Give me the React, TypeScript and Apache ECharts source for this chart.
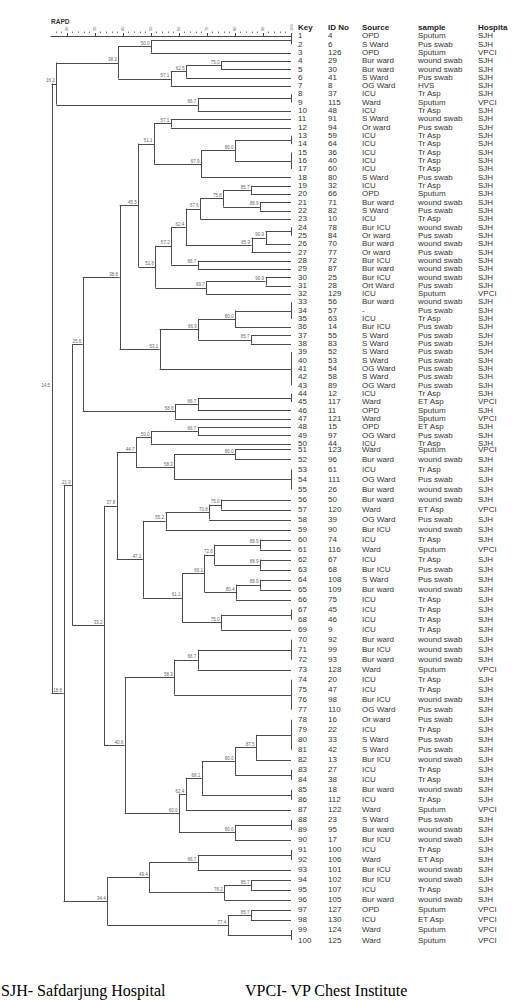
import React, { useEffect, useRef } from 'react';
import * as echarts from 'echarts';

// ---------- data ----------
const S = 'SJH';
const V = 'VPCI';
const keys = Array.from({ length: 100 }, (_, i) => i + 1);
const idNo = [4, 6, 126, 29, 30, 41, 8, 37, 115, 48, 91, 94, 59, 64, 36, 40, 60, 80, 32, 66,
  71, 82, 10, 78, 84, 70, 77, 72, 87, 25, 28, 129, 56, 57, 63, 14, 55, 83, 52, 53,
  54, 58, 89, 12, 117, 11, 121, 15, 97, 44, 123, 96, 61, 111, 26, 50, 120, 39, 90, 74,
  116, 67, 68, 108, 109, 75, 45, 46, 9, 92, 99, 93, 128, 20, 47, 98, 110, 16, 22, 33,
  42, 13, 27, 38, 18, 112, 122, 23, 95, 17, 100, 106, 101, 102, 107, 105, 127, 130, 124, 125];
const source = [
  'OPD', 'S Ward', 'OPD', 'Bur ward', 'Bur ward', 'S Ward', 'OG Ward', 'ICU', 'Ward', 'ICU',
  'S Ward', 'Or ward', 'ICU', 'ICU', 'ICU', 'ICU', 'ICU', 'S Ward', 'ICU', 'OPD',
  'Bur ward', 'S Ward', 'ICU', 'Bur ICU', 'Or ward', 'Bur ward', 'Or ward', 'Bur ICU', 'Bur ward', 'Bur ICU',
  'Ort Ward', 'ICU', 'Bur ward', '-', 'ICU', 'Bur ICU', 'S Ward', 'S Ward', 'S Ward', 'S Ward',
  'OG Ward', 'S Ward', 'OG Ward', 'ICU', 'Ward', 'OPD', 'Ward', 'OPD', 'OG Ward', 'ICU',
  'Ward', 'Bur ward', 'ICU', 'OG Ward', 'Bur ward', 'Bur ward', 'Ward', 'OG Ward', 'Bur ICU', 'ICU',
  'Ward', 'ICU', 'Bur ICU', 'S Ward', 'Bur ward', 'ICU', 'ICU', 'ICU', 'ICU', 'Bur ward',
  'Bur ICU', 'Bur ward', 'Ward', 'ICU', 'ICU', 'Bur ICU', 'OG Ward', 'Or ward', 'ICU', 'S Ward',
  'S Ward', 'Bur ICU', 'ICU', 'ICU', 'Bur ward', 'ICU', 'Ward', 'S Ward', 'Bur ward', 'Bur ICU',
  'ICU', 'Ward', 'Bur ICU', 'Bur ICU', 'ICU', 'Bur ward', 'OPD', 'ICU', 'Ward', 'Ward'];
const sample = [
  'Sputum', 'Pus swab', 'Sputum', 'wound swab', 'wound swab', 'Pus swab', 'HVS', 'Tr Asp', 'Sputum', 'Tr Asp',
  'wound swab', 'Pus swab', 'Tr Asp', 'Tr Asp', 'Tr Asp', 'Tr Asp', 'Tr Asp', 'Pus swab', 'Tr Asp', 'Sputum',
  'wound swab', 'Pus swab', 'Tr Asp', 'wound swab', 'Pus swab', 'wound swab', 'Pus swab', 'wound swab', 'wound swab', 'wound swab',
  'Pus swab', 'Sputum', 'wound swab', 'Pus swab', 'Tr Asp', 'Pus swab', 'Pus swab', 'Pus swab', 'Pus swab', 'Pus swab',
  'Pus swab', 'Pus swab', 'Pus swab', 'Tr Asp', 'ET Asp', 'Sputum', 'Sputum', 'ET Asp', 'Pus swab', 'Tr Asp',
  'Sputum', 'wound swab', 'Tr Asp', 'Pus swab', 'wound swab', 'wound swab', 'ET Asp', 'Pus swab', 'wound swab', 'Tr Asp',
  'Sputum', 'Tr Asp', 'Pus swab', 'Pus swab', 'wound swab', 'Tr Asp', 'Tr Asp', 'Tr Asp', 'Tr Asp', 'wound swab',
  'wound swab', 'wound swab', 'Sputum', 'Tr Asp', 'Tr Asp', 'wound swab', 'Pus swab', 'Pus swab', 'Tr Asp', 'Pus swab',
  'Pus swab', 'wound swab', 'Tr Asp', 'Tr Asp', 'wound swab', 'Tr Asp', 'Sputum', 'Pus swab', 'wound swab', 'wound swab',
  'Tr Asp', 'ET Asp', 'wound swab', 'wound swab', 'Tr Asp', 'wound swab', 'Sputum', 'ET Asp', 'Sputum', 'Sputum'];
const hospital = [S, S, V, S, S, S, S, S, V, S, S, S, S, S, S, S, S, S, S, S,
  S, S, S, S, S, S, S, S, S, S, S, V, S, S, S, S, S, S, S, S,
  S, S, S, S, V, S, V, S, S, S, V, S, S, S, S, S, V, S, S, S,
  V, S, S, S, S, S, S, S, S, S, S, S, V, S, S, S, S, S, S, S,
  S, S, S, S, S, S, V, S, S, S, S, S, S, S, S, S, V, V, V, V];
const headers = ['Key', 'ID No', 'Source', 'sample', 'Hospita'];
const tickLabels = [20, 30, 40, 50, 60, 70, 80, 90, 100];

// merges: [node name, similarity %, children (leaf keys or node names)]
const merges: [string, number, (number | string)[]][] = [
  ['n1', 100, [1, 2]], ['n2', 50.0, ['n1', 3]], ['n3', 75.0, [4, 5]], ['n4', 62.5, ['n3', 6]],
  ['n5', 57.1, ['n4', 7]], ['n6', 38.3, ['n2', 'n5']], ['n7', 100, [8, 9]], ['n8', 66.7, ['n7', 10]],
  ['n9', 16.2, ['n6', 'n8']],
  ['n10', 57.1, [11, 12]], ['n11', 100, [13, 14]], ['n12', 100, [15, 16, 17]], ['n13', 80.0, ['n11', 'n12']],
  ['n14', 67.9, ['n13', 18]], ['n15', 51.1, ['n10', 'n14']], ['n16', 85.7, [19, 20]], ['n17', 88.9, [21, 22]],
  ['n18', 75.8, ['n16', 'n17']], ['n19', 67.6, ['n18', 23]], ['n20', 100, [24, 25]], ['n21', 90.9, ['n20', 26]],
  ['n22', 85.9, ['n21', 27]], ['n23', 62.4, ['n19', 'n22']], ['n24', 66.7, [28, 29]], ['n25', 57.2, ['n23', 'n24']],
  ['n26', 90.9, [30, 31]], ['n27', 69.7, ['n26', 32]], ['n28', 51.6, ['n25', 'n27']], ['n29', 45.5, ['n15', 'n28']],
  ['n30', 100, [33, 34, 35]], ['n31', 80.0, ['n30', 36]], ['n32', 85.7, [37, 38]], ['n33', 66.9, ['n31', 'n32']],
  ['n34', 100, [39, 40, 41, 42, 43]], ['n35', 53.1, ['n33', 'n34']], ['n36', 38.8, ['n29', 'n35']],
  ['n37', 100, [44, 45]], ['n38', 66.7, ['n37', 46]], ['n39', 58.6, ['n38', 47]], ['n40', 25.6, ['n36', 'n39']],
  ['n41', 66.7, [48, 49]], ['n42', 50.0, ['n41', 50]], ['n43', 80.0, [51, 52]], ['n44', 100, [53, 54, 55]],
  ['n45', 58.3, ['n43', 'n44']], ['n46', 44.7, ['n42', 'n45']], ['n47', 75.0, [56, 57]], ['n48', 70.8, ['n47', 58]],
  ['n49', 55.2, ['n48', 59]], ['n50', 88.9, [60, 61]], ['n51', 88.9, [62, 63]], ['n52', 72.6, ['n50', 'n51']],
  ['n53', 88.9, [64, 65]], ['n54', 80.4, ['n53', 66]], ['n55', 69.1, ['n52', 'n54']], ['n56', 100, [67, 68]],
  ['n57', 75.0, ['n56', 69]], ['n58', 61.1, ['n55', 'n57']], ['n59', 47.1, ['n49', 'n58']], ['n60', 37.8, ['n46', 'n59']],
  ['n61', 100, [70, 71, 72]], ['n62', 66.7, ['n61', 73]], ['n63', 100, [74, 75, 76, 77]], ['n64', 58.3, ['n62', 'n63']],
  ['n65', 100, [78, 79, 80, 81]], ['n66', 87.5, ['n65', 82]], ['n67', 100, [83, 84]], ['n68', 80.0, ['n66', 'n67']],
  ['n69', 100, [85, 86]], ['n70', 68.1, ['n68', 'n69']], ['n71', 62.4, ['n70', 87]], ['n72', 100, [88, 89]],
  ['n73', 80.0, ['n72', 90]], ['n74', 60.0, ['n71', 'n73']], ['n75', 40.6, ['n64', 'n74']], ['n76', 33.2, ['n60', 'n75']],
  ['n77', 21.9, ['n40', 'n76']],
  ['n78', 100, [91, 92]], ['n79', 66.7, ['n78', 93]], ['n80', 85.7, [94, 95]], ['n81', 76.2, ['n80', 96]],
  ['n82', 49.4, ['n79', 'n81']], ['n83', 85.7, [97, 98]], ['n84', 100, [99, 100]], ['n85', 77.4, ['n83', 'n84']],
  ['n86', 34.4, ['n82', 'n85']], ['n87', 18.8, ['n77', 'n86']], ['root', 14.5, ['n9', 'n87']],
];

// ---------- layout helpers ----------
// the upper half of the figure (keys 1-50) is vertically compressed relative to the lower half
const ROW_BREAK = 0.7;
const LOWER_SCALE = 10 / 8.31;
const rowPos = (k: number) => (k <= 50 ? k - 1 : 49 + ROW_BREAK + (k - 51) * LOWER_SCALE);
const X_MIN = 14.3;
const X_MAX = 100;

function buildTree() {
  const yOf: Record<string, number> = {};
  const simOf: Record<string, number> = {};
  const segments: number[][] = [];
  const labels: [number, number, string][] = [];
  for (const [name, sim, children] of merges) {
    const ys = children.map((c) => (typeof c === 'number' ? rowPos(c) : yOf[c]));
    const y = ys.reduce((a, b) => a + b, 0) / ys.length;
    yOf[name] = y;
    simOf[name] = sim;
    segments.push([sim, Math.min(...ys), sim, Math.max(...ys)]);
    children.forEach((c, i) => {
      const cs = typeof c === 'number' ? 100 : simOf[c];
      if (cs !== sim) segments.push([sim, ys[i], cs, ys[i]]);
    });
    if (sim < 100) labels.push([sim, y, sim.toFixed(1)]);
  }
  return { segments, labels };
}

const FONT = '"Liberation Sans", Arial, Helvetica, sans-serif';
const LINE = '#4a4a4a';
const TEXT = '#333';

export default function App() {
  const ref = useRef<HTMLDivElement>(null);
  useEffect(() => {
    document.body.style.margin = '0';
    if (!ref.current) return;
    const chart = echarts.init(ref.current, null, { renderer: 'svg' });
    const { segments, labels } = buildTree();
    const minorTicks: number[] = [];
    for (let v = 16; v < 100; v += 2) if (v % 10 !== 0) minorTicks.push(v);
    const colOffsets = [7, 37, 71, 127, 187];
    const gridLeft = 51;
    const gridWidth = 240;

    chart.setOption({
      animation: false,
      grid: { left: gridLeft, top: 36, width: gridWidth, height: 904, containLabel: false },
      xAxis: [
        {
          type: 'value', min: X_MIN, max: X_MAX, position: 'top', offset: 3,
          axisLine: { show: true, lineStyle: { color: LINE, width: 1 } },
          axisTick: { show: true, customValues: tickLabels, length: 3, lineStyle: { color: LINE } },
          axisLabel: { show: true, customValues: tickLabels, fontSize: 4, rotate: 90, margin: 2, color: '#555', fontFamily: FONT },
          splitLine: { show: false },
        },
        {
          type: 'value', min: X_MIN, max: X_MAX, position: 'top', offset: 3,
          axisLine: { show: false },
          axisTick: { show: true, customValues: minorTicks, length: 1.5, lineStyle: { color: '#777' } },
          axisLabel: { show: false },
          splitLine: { show: false },
        },
      ],
      yAxis: { type: 'value', min: 0, max: rowPos(100), inverse: true, show: false },
      graphic: [
        { type: 'text', x: 51, y: 21, style: { text: 'RAPD', fontSize: 6.5, fontWeight: 'bold', fontFamily: FONT, fill: TEXT, textVerticalAlign: 'middle', verticalAlign: 'middle' } },
        ...headers.map((h, i) => ({
          type: 'text', x: gridLeft + gridWidth + colOffsets[i], y: 27,
          style: { text: h, fontSize: 8, fontWeight: 'bold', fontFamily: FONT, fill: '#222', textVerticalAlign: 'middle', verticalAlign: 'middle' },
        })),
        { type: 'text', x: 1, y: 990, style: { text: 'SJH- Safdarjung Hospital', fontSize: 16, fontFamily: '"Liberation Serif", "Times New Roman", serif', fill: '#000', textVerticalAlign: 'middle', verticalAlign: 'middle' } },
        { type: 'text', x: 245, y: 990, style: { text: 'VPCI- VP Chest Institute', fontSize: 16, fontFamily: '"Liberation Serif", "Times New Roman", serif', fill: '#000', textVerticalAlign: 'middle', verticalAlign: 'middle' } },
      ],
      series: [
        {
          type: 'custom', name: 'branches', xAxisIndex: 0, yAxisIndex: 0, silent: true, clip: false,
          data: segments,
          encode: { x: [0, 2], y: [1, 3] },
          renderItem: (_p: any, api: any) => {
            const a = api.coord([api.value(0), api.value(1)]);
            const b = api.coord([api.value(2), api.value(3)]);
            const vertical = api.value(0) === api.value(2);
            const snap = (v: number) => Math.round(v) + 0.5;
            const shape = vertical
              ? { x1: snap(a[0]), y1: a[1], x2: snap(b[0]), y2: b[1] }
              : { x1: a[0], y1: snap(a[1]), x2: b[0], y2: snap(b[1]) };
            return { type: 'line', shape, style: { stroke: LINE, lineWidth: 1 } };
          },
        },
        {
          type: 'custom', name: 'node labels', xAxisIndex: 0, yAxisIndex: 0, silent: true, clip: false,
          data: labels.map((l) => [l[0], l[1]]),
          encode: { x: 0, y: 1 },
          renderItem: (p: any, api: any) => {
            const c = api.coord([api.value(0), api.value(1)]);
            return {
              type: 'text', x: c[0] - 1.5, y: c[1] - 0.3,
              style: { text: labels[p.dataIndex][2], fontSize: 4.5, fontFamily: FONT, fill: '#666', align: 'right', verticalAlign: 'bottom', textAlign: 'right', textVerticalAlign: 'bottom' },
            };
          },
        },
        {
          type: 'custom', name: 'table', xAxisIndex: 0, yAxisIndex: 0, silent: true, clip: false,
          data: keys.map((k) => [X_MAX, rowPos(k)]),
          encode: { x: 0, y: 1 },
          renderItem: (p: any, api: any) => {
            const i = p.dataIndex;
            const c = api.coord([api.value(0), api.value(1)]);
            const cells = [String(keys[i]), String(idNo[i]), source[i], sample[i], hospital[i]];
            const sy = keys[i] <= 50 ? 0.83 : 1;
            return {
              type: 'group',
              children: cells.map((t, j) => ({
                type: 'text', x: c[0] + colOffsets[j], y: c[1], scaleY: sy,
                style: { text: t, fontSize: 8, fontFamily: FONT, fill: TEXT, align: 'left', verticalAlign: 'middle', textAlign: 'left', textVerticalAlign: 'middle' },
              })),
            };
          },
        },
      ],
    });
    return () => chart.dispose();
  }, []);
  return <div ref={ref} style={{ width: 530, height: 1001 }} />;
}
